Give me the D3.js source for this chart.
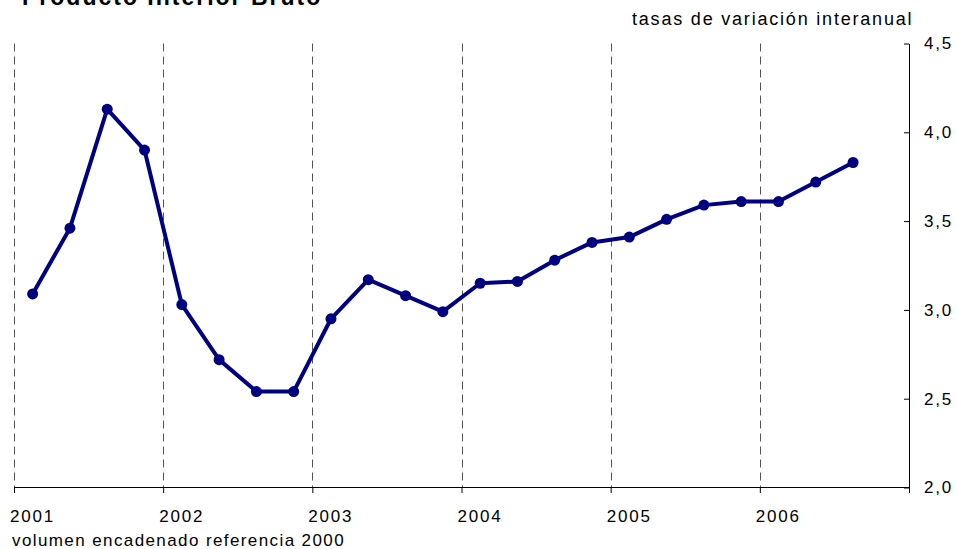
<!DOCTYPE html>
<html lang="es">
<head>
    <meta charset="UTF-8">
    <title>Producto Interior Bruto</title>
    <script src="https://d3js.org/d3.v7.min.js"></script>
    <style>
        body { margin: 0; background: #fff; }
        svg { font-family: "Liberation Sans", Arial, sans-serif; }
        .grid { stroke: #555; stroke-dasharray: 8,5; }
        .serie { fill: none; stroke: #000080; stroke-width: 4; stroke-linejoin: round; }
        .punto { fill: #000080; }
    </style>
</head>
<body>
    <svg width="957" height="549"></svg>
    <script>
        // años del eje (cada año son 4 trimestres)
        const years = ["2001", "2002", "2003", "2004", "2005", "2006"];
        // trimestres: 2001T1 .. 2006T3
        const quarters = [
            "2001T1", "2001T2", "2001T3", "2001T4",
            "2002T1", "2002T2", "2002T3", "2002T4",
            "2003T1", "2003T2", "2003T3", "2003T4",
            "2004T1", "2004T2", "2004T3", "2004T4",
            "2005T1", "2005T2", "2005T3", "2005T4",
            "2006T1", "2006T2", "2006T3"
        ];
        const values = [
            3.09, 3.46, 4.13, 3.90,
            3.03, 2.72, 2.54, 2.54,
            2.95, 3.17, 3.08, 2.99,
            3.15, 3.16, 3.28, 3.38,
            3.41, 3.51, 3.59, 3.61,
            3.61, 3.72, 3.83
        ];
        const yTicks = [2.0, 2.5, 3.0, 3.5, 4.0, 4.5];

        const svg = d3.select("svg");
        const mLeft = 14, mRight = 909, mTop = 43.5, mBottom = 487.5;

        // escala continua en trimestres: 0 = inicio de 2001, 24 = fin de 2006
        const x = d3.scaleLinear().domain([0, years.length * 4]).range([mLeft, mRight]);
        const y = d3.scaleLinear().domain([2, 4.5]).range([mBottom, mTop]);
        const fmt = d => d.toFixed(1).replace(".", ",");

        // líneas verticales discontinuas en el inicio de cada año
        svg.append("g")
            .selectAll("line")
            .data(years)
            .enter().append("line")
            .attr("class", "grid")
            .attr("x1", (d, i) => Math.round(x(i * 4)) + 0.5)
            .attr("x2", (d, i) => Math.round(x(i * 4)) + 0.5)
            .attr("y1", mTop)
            .attr("y2", mBottom);

        // eje x
        const xAxis = svg.append("g").attr("transform", `translate(0,${mBottom - 0.5})`);
        xAxis.call(d3.axisBottom(x).tickValues(d3.range(0, years.length * 4 + 1, 4))
                .tickSize(6).tickFormat(""))
            .call(g => g.select(".domain").attr("d", `M${mLeft},0.5H${mRight}`));
        xAxis.selectAll(".tick line").attr("stroke", "#000");
        xAxis.selectAll(".yearlab")
            .data(years)
            .enter().append("text")
            .attr("class", "yearlab")
            .attr("x", (d, i) => x(i * 4) - 4)
            .attr("y", 35)
            .attr("text-anchor", "start")
            .attr("font-size", 17)
            .attr("letter-spacing", 1.8)
            .attr("fill", "#000")
            .text(d => d);

        // eje y a la derecha
        const yAxis = svg.append("g").attr("transform", `translate(${mRight},0)`);
        yAxis.call(d3.axisRight(y).tickValues(yTicks).tickSizeInner(-5).tickSizeOuter(0)
                .tickPadding(15).tickFormat(fmt));
        yAxis.selectAll("text").attr("font-size", 17).attr("fill", "#000")
            .attr("letter-spacing", 1.8)
            .attr("font-family", "Liberation Sans, Arial, sans-serif");
        yAxis.select(".domain").attr("stroke", "#000");
        yAxis.selectAll(".tick line").attr("stroke", "#000");

        // serie
        const data = quarters.map((q, i) => ({ q, i, v: values[i] }));
        const line = d3.line().x(d => x(d.i + 0.5)).y(d => y(d.v));
        svg.append("path").datum(data).attr("class", "serie").attr("d", line);
        svg.append("g").selectAll("circle")
            .data(data)
            .enter().append("circle")
            .attr("class", "punto")
            .attr("cx", d => x(d.i + 0.5))
            .attr("cy", d => y(d.v))
            .attr("r", 5.5);

        // textos
        svg.append("text").attr("x", 22).attr("y", 5)
            .attr("font-size", 23).attr("font-weight", "bold")
            .attr("letter-spacing", 2)
            .text("Producto Interior Bruto");
        svg.append("text").attr("x", 632).attr("y", 25)
            .attr("font-size", 18).attr("letter-spacing", 1.8)
            .text("tasas de variación interanual");
        svg.append("text").attr("x", 12).attr("y", 546)
            .attr("font-size", 17).attr("letter-spacing", 1.4)
            .text("volumen encadenado referencia 2000");
    </script>
</body>
</html>
